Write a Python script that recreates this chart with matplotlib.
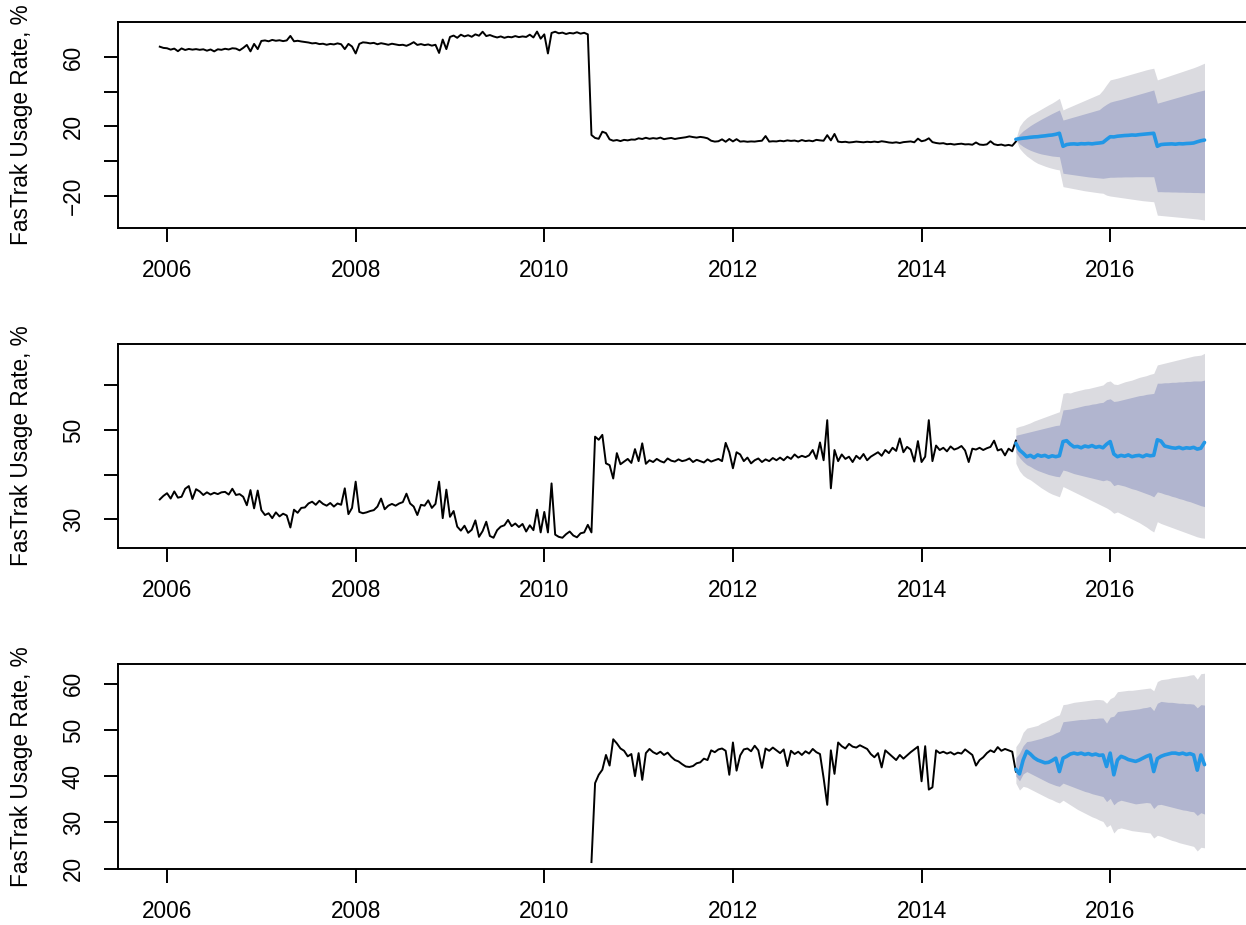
import numpy as np
import matplotlib
matplotlib.use("Agg")
import matplotlib.pyplot as plt

plt.rcParams['font.family'] = ['Liberation Sans', 'DejaVu Sans']

# ---------------- data ----------------
STEP = 1 / 26          # bi-weekly sampling (years)
HIST_START_12 = 2005.923
HIST_START_3 = 2010.5
FC_START = 2015.0

hist1 = [65.9, 65.2,
         65.0, 64.2, 64.8, 63.3, 64.9, 64.0, 64.6, 64.2, 64.5, 64.1, 64.4, 63.6, 64.3,
         63.2, 64.4, 64.1, 64.7, 64.3, 65.0, 64.8, 63.8, 65.2, 66.9, 63.2, 67.5, 64.5,
         69.2, 69.5, 69.0, 69.8, 69.3, 69.6, 69.1, 69.5, 72.1, 69.0, 69.3, 68.9, 68.6,
         68.3, 67.8, 68.0, 67.4, 67.6, 67.0, 67.5, 67.2, 67.8, 67.3, 64.5, 67.5, 66.0,
         62.0, 67.5, 68.4, 68.2, 67.8, 68.1, 67.3, 67.9, 67.5, 67.0, 67.6, 67.2, 66.8,
         67.0, 66.4, 67.3, 68.5, 66.9, 67.4, 66.8, 67.2, 66.5, 67.0, 62.3, 70.0, 64.5,
         71.5, 72.3, 71.0, 72.8, 71.8, 72.5, 71.6, 73.0, 72.2, 74.5, 72.0, 72.6, 71.8,
         71.2, 71.8, 71.0, 71.6, 71.3, 72.0, 71.4, 71.8, 71.5, 72.8, 71.2, 74.6, 70.5,
         73.0, 62.0, 73.8, 74.5, 73.6, 74.0, 73.2, 73.8, 73.5, 74.2, 73.4, 73.9, 73.0,
         15.1, 13.4, 12.9, 17.0, 16.2, 12.6, 11.8, 12.2, 11.6, 12.3, 12.0, 12.5, 12.4,
         13.2, 12.8, 13.5, 12.9, 13.3, 13.0, 13.6, 12.7, 13.1, 13.4, 12.8, 13.2, 13.5,
         13.8, 14.3, 13.9, 13.6, 14.0, 13.7, 13.2, 11.8, 11.3, 11.5, 12.6, 11.2, 12.8,
         11.4, 12.7, 11.3, 11.5, 11.2, 11.4, 11.3, 11.6, 11.8, 14.5, 11.3, 11.5, 11.4,
         11.8, 11.5, 12.0, 11.7, 11.9, 11.4, 12.2, 11.6, 11.9, 11.5, 12.3, 12.0, 11.8,
         15.0, 12.0, 15.7, 11.3, 11.0, 11.2, 10.8, 11.0, 11.3, 11.1, 10.9, 11.2, 11.0,
         11.3, 11.0, 11.5, 11.2, 10.8, 10.6, 10.9, 10.5, 11.0, 11.2, 11.4, 10.9, 13.0,
         11.5, 12.0, 13.2, 11.0, 10.5, 10.2, 10.4, 9.8, 10.0, 9.6, 9.9, 10.1, 9.7,
         9.8, 9.5, 10.8, 9.6, 9.4, 9.7, 11.5, 9.8, 9.3, 9.6, 9.0, 9.4, 8.9,
         11.3]

hist2 = [34.4, 35.2,
         35.8, 34.6, 36.2, 34.8, 35.0, 36.8, 37.4, 34.5, 36.7, 36.2, 35.4, 36.0, 35.5,
         35.9, 35.6, 36.0, 36.1, 35.5, 36.8, 35.4, 35.6, 35.0, 33.1, 36.5, 32.4, 36.4,
         32.0, 30.9, 31.3, 30.2, 31.5, 30.6, 31.2, 30.8, 28.1, 32.1, 31.4, 32.5, 32.6,
         33.5, 33.9, 33.2, 34.1, 33.4, 33.0, 33.6, 32.8, 33.5, 33.2, 36.9, 31.1, 32.5,
         38.4, 31.6, 31.3, 31.5, 31.8, 32.0, 32.8, 34.6, 32.2, 33.0, 33.4, 33.0, 33.5,
         33.8, 35.7, 33.5, 32.8, 30.9, 33.2, 33.0, 34.2, 32.5, 33.4, 38.4, 30.2, 36.6,
         30.5, 31.8, 28.3, 27.4, 28.5, 26.9, 27.6, 29.7, 26.0, 27.3, 29.4, 26.2, 25.8,
         27.5, 28.3, 28.6, 29.8, 28.4, 29.0, 28.2, 28.9, 27.2, 28.6, 27.5, 32.1, 27.0,
         31.6, 27.0, 38.0, 26.5, 26.0, 25.8, 26.6, 27.2, 26.3, 25.9, 26.8, 27.0, 28.7,
         27.0, 48.5, 47.8, 48.9, 42.5, 42.1, 39.1, 44.8, 42.3, 42.9, 43.5, 42.6, 45.7,
         43.0, 47.0, 42.4, 43.2, 42.8, 43.5, 43.0, 42.7, 43.6, 43.1, 42.9, 43.4, 43.0,
         43.2, 43.6, 42.8, 43.3, 43.0, 42.7, 43.4, 42.9, 43.2, 43.5, 43.0, 47.1, 45.0,
         41.4, 45.0, 44.5, 43.0, 43.8, 42.5, 43.2, 43.6, 42.8, 43.4, 43.0, 43.7, 43.2,
         43.8, 43.2, 44.0, 43.5, 44.5, 43.8, 44.2, 43.9, 44.3, 45.5, 43.5, 47.2, 43.2,
         52.2, 36.9, 45.5, 43.0, 44.5, 43.5, 44.0, 42.8, 44.2, 43.5, 44.6, 43.2, 44.0,
         44.5, 45.0, 44.2, 45.5, 44.8, 46.0, 45.3, 48.1, 45.0, 46.2, 45.6, 42.9, 47.5,
         42.8, 44.0, 52.2, 43.0, 46.5, 45.5, 46.0, 45.2, 46.3, 45.6, 45.9, 46.4, 45.4,
         42.8, 45.8, 45.6, 46.0, 45.5, 45.9, 46.2, 47.6, 45.4, 45.7, 44.3, 45.8, 45.2,
         47.6]

hist3 = [21.4, 38.5, 40.3, 41.4, 44.6, 42.3, 48.0, 47.1, 46.0, 45.5, 44.3, 44.8, 40.0,
         45.0, 39.2, 45.0, 45.9, 45.2, 44.8, 45.3, 44.6, 45.1, 44.2, 43.5, 43.2, 42.6,
         42.1, 42.0, 42.2, 42.8, 43.0, 43.8, 43.5, 45.6, 45.2, 45.8, 46.0, 45.5, 40.3,
         47.3, 41.2, 44.5, 45.8, 46.0, 45.4, 46.6, 45.6, 41.8, 46.0, 45.5, 46.2, 45.6,
         45.0, 45.8, 42.2, 45.5, 44.8, 45.3, 44.6, 45.4, 44.9, 45.9, 45.2, 44.8, 39.6,
         33.8, 45.6, 40.5, 47.3, 46.5, 46.0, 47.0, 46.4, 46.2, 46.7, 46.3, 45.9, 44.8,
         44.1, 45.0, 41.9, 45.6, 44.9, 44.2, 43.5, 44.6, 43.8, 44.5, 45.2, 45.8, 46.4,
         38.9, 46.5, 37.1, 37.6, 45.6, 45.0, 45.3, 44.9, 45.2, 44.7, 45.1, 44.9, 45.8,
         45.2, 44.6, 42.3, 43.5, 44.1, 45.0, 45.6, 45.2, 46.3, 45.5, 45.9, 45.6, 45.3,
         41.0]

# forecasts (mean, 80% and 95% limits)
mean1 = [12.6, 13.0, 13.3, 13.5, 13.8, 14.0, 14.1, 14.4, 14.6, 14.9, 15.1, 15.5, 16.1,
         8.6, 9.6, 9.9, 10.0, 9.8, 10.1, 10.0, 10.2, 10.0, 10.3, 10.5, 10.8, 12.5,
         14.1, 14.0, 14.4, 14.6, 14.8, 14.9, 15.1, 15.0, 15.3, 15.5, 15.7, 15.9, 16.1,
         8.6, 9.6, 9.8, 9.9, 10.0, 9.8, 10.1, 10.0, 10.2, 10.3, 10.5, 11.2, 11.8, 12.2]
hi95_1 = [12.8, 20.0, 23.0, 25.0, 26.5, 27.6, 28.8, 30.0, 31.2, 32.4, 33.5, 34.8, 36.2,
          29.5, 30.5, 31.4, 32.3, 33.2, 34.1, 35.0, 35.9, 36.8, 37.7, 38.6, 41.0, 44.0,
          46.8, 47.3, 47.8, 48.4, 49.0, 49.6, 50.2, 50.8, 51.4, 52.0, 52.6, 53.1, 53.5,
          46.8, 47.5, 48.2, 48.9, 49.6, 50.3, 51.0, 51.7, 52.4, 53.1, 53.8, 54.6, 55.5, 56.4]
hi80_1 = [12.7, 15.5, 17.5, 19.0, 20.5, 21.8, 23.0, 24.2, 25.3, 26.4, 27.5, 28.5, 29.5,
          23.7, 24.3, 24.9, 25.5, 26.1, 26.7, 27.3, 27.9, 28.5, 29.1, 29.7, 31.4, 32.8,
          34.0, 34.6, 35.1, 35.6, 36.2, 36.8, 37.4, 38.0, 38.6, 39.2, 39.8, 40.4, 41.0,
          33.4, 34.0, 34.6, 35.2, 35.8, 36.4, 37.0, 37.6, 38.2, 38.8, 39.4, 40.0, 40.5, 41.0]
lo80_1 = [12.5, 10.0, 8.5, 7.3, 6.3, 5.5, 4.8, 4.2, 3.8, 3.4, 3.0, 2.8, 2.6,
          -6.9, -7.2, -7.5, -7.8, -8.1, -8.4, -8.7, -9.0, -9.2, -9.4, -9.6, -9.8, -9.5,
          -9.2, -9.2, -9.1, -9.1, -9.0, -9.0, -9.0, -8.9, -8.9, -8.9, -8.9, -8.9, -8.9,
          -17.5, -17.5, -17.6, -17.6, -17.7, -17.7, -17.8, -17.8, -17.9, -17.9, -18.0, -18.0, -18.1, -18.1]
lo95_1 = [12.4, 7.4, 5.0, 3.0, 1.5, 0.0, -1.2, -2.0, -2.8, -3.5, -4.1, -4.6, -5.0,
          -14.6, -15.0, -15.4, -15.8, -16.2, -16.6, -17.0, -17.3, -17.6, -17.9, -18.2, -18.4, -19.5,
          -20.0, -20.3, -20.6, -20.9, -21.2, -21.5, -21.8, -22.1, -22.4, -22.7, -22.9, -23.1, -23.3,
          -31.0, -31.2, -31.4, -31.6, -31.8, -32.0, -32.2, -32.4, -32.6, -32.8, -33.0, -33.2, -33.5, -33.8]

mean2 = [47.0, 45.5, 44.8, 44.0, 44.3, 43.8, 44.4, 44.1, 44.3, 43.9, 44.2, 44.0, 44.2,
         47.4, 47.6, 46.8, 46.2, 46.3, 46.0, 46.4, 46.2, 46.5, 46.1, 46.3, 46.0, 46.8,
         47.4, 44.6, 44.0, 44.3, 44.1, 44.4, 44.0, 44.2, 44.3, 44.0, 44.4, 44.2, 44.3,
         47.8, 47.5, 46.4, 46.2, 46.0, 45.9, 46.1, 45.8, 46.0, 45.9, 46.1, 45.7, 45.9, 47.2]
hi95_2 = [50.5, 50.8, 51.0, 51.3, 51.6, 52.0, 52.3, 52.6, 52.9, 53.2, 53.5, 53.8, 54.1,
          58.2, 58.4, 58.3, 58.6, 58.8, 59.0, 59.2, 59.3, 59.5, 59.7, 59.9, 60.1, 60.8,
          61.0, 60.3, 60.2, 60.5, 60.8, 61.0, 61.2, 61.5, 61.8, 62.0, 62.2, 62.5, 62.7,
          64.6, 64.8, 65.0, 65.2, 65.4, 65.6, 65.8, 66.0, 66.2, 66.4, 66.6, 66.7, 66.8, 67.2]
hi80_2 = [48.8, 49.0, 49.2, 49.4, 49.6, 49.8, 50.0, 50.2, 50.4, 50.6, 50.8, 51.0, 51.1,
          54.5, 54.6, 54.7, 54.9, 55.1, 55.3, 55.5, 55.6, 55.8, 55.9, 56.1, 56.2, 56.8,
          57.0, 56.4, 56.5, 56.7, 56.9, 57.1, 57.3, 57.5, 57.7, 57.8, 58.0, 58.1, 58.2,
          60.5, 60.5, 60.6, 60.6, 60.7, 60.7, 60.8, 60.8, 60.9, 60.9, 61.0, 61.0, 61.0, 61.2]
lo80_2 = [45.0, 43.8, 42.9, 42.2, 41.8, 41.3, 40.9, 40.6, 40.3, 40.0, 39.8, 39.6, 39.5,
          41.0, 40.8, 40.5, 40.2, 40.0, 39.8, 39.6, 39.4, 39.2, 39.0, 38.8, 38.6, 38.8,
          38.5, 37.5, 37.8, 37.6, 37.4, 37.1, 36.8, 36.6, 36.3, 36.0, 35.7, 35.4, 35.0,
          36.1, 35.9, 35.6, 35.4, 35.1, 34.9, 34.6, 34.4, 34.1, 33.9, 33.6, 33.3, 33.0, 32.8]
lo95_2 = [42.5, 40.8, 39.8, 39.2, 38.8, 38.2, 37.6, 37.0, 36.5, 36.0, 35.6, 35.3, 35.0,
          37.3, 36.9, 36.5, 36.1, 35.7, 35.3, 34.9, 34.5, 34.1, 33.7, 33.3, 32.9, 32.5,
          32.0, 31.3, 31.6, 31.2, 30.8, 30.4, 30.0, 29.6, 29.2, 28.7, 28.2, 27.6, 27.1,
          29.4, 29.0, 28.7, 28.4, 28.1, 27.8, 27.5, 27.2, 26.9, 26.6, 26.3, 26.0, 25.8, 25.7]

mean3 = [41.5, 40.5, 43.5, 45.4, 44.8, 44.0, 43.5, 43.2, 42.9, 43.0, 43.4, 43.9, 41.0,
         43.9, 44.3, 44.8, 45.0, 44.8, 45.0, 44.7, 44.9, 44.6, 44.8, 44.5, 44.6, 42.1,
         45.0, 40.3, 43.5, 44.3, 44.0, 43.6, 43.4, 43.2, 43.5, 43.9, 44.3, 44.6, 41.0,
         43.8, 44.3, 44.6, 44.8, 45.0, 45.0, 44.8, 45.0, 44.7, 44.9, 44.6, 41.3, 44.6, 42.5]
hi95_3 = [46.4, 47.5, 49.5, 50.4, 50.6, 50.8, 51.0, 51.5, 51.8, 52.2, 52.6, 53.0, 53.3,
          55.5, 55.6, 55.8, 56.0, 56.1, 56.2, 56.3, 56.4, 56.5, 56.6, 56.6, 56.5, 55.8,
          56.8, 57.2, 58.3, 58.4, 58.5, 58.6, 58.6, 58.7, 58.8, 58.9, 59.0, 59.1, 58.5,
          60.5, 60.9, 61.0, 61.1, 61.3, 61.4, 61.5, 61.6, 61.7, 61.9, 62.0, 61.0, 62.2, 62.3]
hi80_3 = [44.0, 45.0, 46.6, 47.5, 47.6, 47.8, 48.0, 48.2, 48.5, 48.7, 49.0, 49.4, 49.7,
          51.8, 51.9, 52.0, 52.1, 52.2, 52.3, 52.3, 52.4, 52.5, 52.5, 52.6, 52.6, 51.5,
          52.8, 53.0, 54.0, 54.1, 54.2, 54.3, 54.4, 54.5, 54.6, 54.8, 54.9, 55.1, 54.2,
          55.8, 56.2, 56.1, 56.0, 56.0, 55.9, 55.8, 55.8, 55.7, 55.7, 55.6, 54.8, 55.5, 55.4]
lo80_3 = [40.0, 39.0, 40.5, 41.0, 40.6, 40.2, 39.8, 39.4, 39.0, 38.6, 38.3, 38.0, 37.8,
          38.5, 38.2, 37.9, 37.6, 37.3, 37.0, 36.7, 36.5, 36.2, 36.0, 35.8, 35.6, 34.5,
          35.2, 33.8, 34.5, 34.8, 34.6, 34.4, 34.2, 34.0, 34.1, 34.2, 34.3, 34.2, 33.0,
          33.8, 33.9, 33.7, 33.5, 33.3, 33.1, 32.9, 32.7, 32.6, 32.4, 32.3, 31.5, 32.1, 31.8]
lo95_3 = [38.5, 37.0, 37.8, 37.6, 37.2, 36.8, 36.4, 36.0, 35.6, 35.2, 34.9, 34.5, 34.2,
          34.8, 34.3, 33.8, 33.3, 32.8, 32.4, 32.0, 31.6, 31.2, 30.9, 30.5, 30.2, 29.0,
          29.5, 27.7, 28.6, 28.8, 28.6, 28.4, 28.2, 28.1, 28.0, 27.9, 27.8, 27.7, 26.6,
          27.2, 27.0, 26.7, 26.4, 26.1, 25.9, 25.6, 25.4, 25.2, 25.0, 24.8, 23.8, 24.6, 24.5]

x_ticks = [2006, 2008, 2010, 2012, 2014, 2016]
y_ticks = [[-20, 0, 20, 40, 60], [30, 40, 50, 60], [20, 30, 40, 50, 60]]
y_ticklabels = [["\u221220", "", "20", "", "60"], ["30", "", "50", ""],
                ["20", "30", "40", "50", "60"]]
y_limits = [(-38.4, 80.1), (23.5, 69.3), (19.9, 64.3)]
y_label = "FasTrak Usage Rate, %"

panels = [
    (HIST_START_12, hist1, mean1, lo80_1, hi80_1, lo95_1, hi95_1),
    (HIST_START_12, hist2, mean2, lo80_2, hi80_2, lo95_2, hi95_2),
    (HIST_START_3, hist3, mean3, lo80_3, hi80_3, lo95_3, hi95_3),
]

# ---------------- drawing ----------------
W, H = 1246, 925
fig = plt.figure(figsize=(W / 100, H / 100), dpi=100)
boxes = [(22, 228), (344, 548), (664, 869)]
left_px = 118

for i, (start, hist, mean, lo80, hi80, lo95, hi95) in enumerate(panels):
    top, bot = boxes[i]
    ax = fig.add_axes([left_px / W, 1 - bot / H, 1 - left_px / W, (bot - top) / H])
    th = start + np.arange(len(hist)) * STEP
    tf = FC_START + np.arange(len(mean)) * STEP
    assert len(mean) == len(lo80) == len(hi80) == len(lo95) == len(hi95) == 53

    ax.fill_between(tf, lo95, hi95, color="#DBDBE0", lw=0, zorder=1)
    ax.fill_between(tf, lo80, hi80, color="#B1B5CF", lw=0, zorder=2)
    ax.plot(th, hist, color="black", lw=1.4, zorder=3, solid_joinstyle="round")
    ax.plot(tf, mean, color="#2297E6", lw=2.6, zorder=4, solid_joinstyle="round",
            solid_capstyle="round")

    ax.set_xlim(2005.48, 2017.44)
    ax.set_ylim(*y_limits[i])
    ax.set_xticks(x_ticks)
    ax.set_xticklabels([str(x) for x in x_ticks])
    ax.set_yticks(y_ticks[i])
    ax.set_yticklabels(y_ticklabels[i], rotation=90, va="center")

    for s in ["left", "top", "bottom"]:
        ax.spines[s].set_linewidth(1.4)
    ax.spines["right"].set_visible(False)
    ax.tick_params(axis="both", direction="out", length=10, width=1.4,
                   labelsize=16.3, colors="black")
    ax.tick_params(axis="x", pad=12)
    ax.tick_params(axis="y", pad=14)
    ax.set_ylabel(y_label, fontsize=16.3, va="center")
    ax.yaxis.set_label_coords((22 - left_px) / (W - left_px), 0.5)

fig.savefig("out.png", dpi=100)
